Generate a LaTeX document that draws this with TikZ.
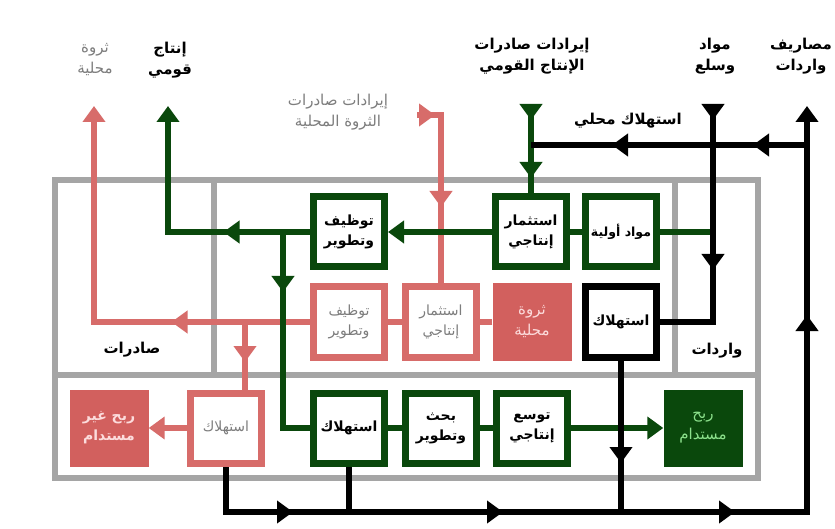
\documentclass[tikz,border=0pt]{standalone}
\usepackage{fontspec}
\newfontfamily\arfont[Script=Arabic]{DejaVu Sans}
\TeXXeTstate=1
\usetikzlibrary{arrows.meta,decorations.markings}
\newcommand{\AR}[1]{{\arfont\beginR #1\endR}}
\definecolor{framegray}{RGB}{165,165,165}
\definecolor{dg}{RGB}{10,72,12}
\definecolor{rdl}{RGB}{215,108,106}
\definecolor{rdfill}{RGB}{210,96,94}
\definecolor{txtgray}{RGB}{125,125,125}
\definecolor{pinktxt}{RGB}{252,220,220}
\definecolor{ltgreen}{RGB}{140,225,140}
\pgfdeclarelayer{frameLayer}
\pgfdeclarelayer{lineLayer}
\pgfsetlayers{frameLayer,lineLayer,main}
\tikzset{
  Tri/.tip={Triangle[width=22pt,length=16pt]},
  mk/.style={postaction={decorate,decoration={markings,mark=at position #1 with {\arrow{Tri}}}}},
  gline/.style={draw=dg,line width=6pt},
  rline/.style={draw=rdl,line width=6pt},
  kline/.style={draw=black,line width=6pt},
  box/.style={line width=7pt,minimum width=71pt,minimum height=70pt,fill=white,inner sep=0pt,align=center},
  gbox/.style={box,draw=dg,font=\fontsize{14}{20}\selectfont\bfseries},
  kbox/.style={box,draw=black,font=\fontsize{14}{20}\selectfont\bfseries},
  rbox/.style={box,draw=rdl,text=txtgray,font=\fontsize{14}{20}\selectfont},
  fbox/.style={minimum width=79pt,minimum height=77pt,inner sep=0pt,align=center},
  lbl/.style={align=center,inner sep=0pt,font=\fontsize{15}{21}\selectfont},
  blbl/.style={lbl,font=\fontsize{15}{21}\selectfont\bfseries},
}
\begin{document}
\begin{tikzpicture}[x=1pt,y=-1pt]
\useasboundingbox (0,0) rectangle (835,529);
\begin{pgfonlayer}{frameLayer}
\fill[white] (0,0) rectangle (835,529);
\draw[framegray,line width=6pt] (55,180) rectangle (758,478);
\draw[framegray,line width=6pt] (55,375) -- (758,375);
\draw[framegray,line width=6pt] (214,180) -- (214,375);
\draw[framegray,line width=6pt] (675,180) -- (675,375);
\end{pgfonlayer}

% boxes
\node[gbox] (td1) at (349,232) {\AR{توظيف}\\\AR{وتطوير}};
\node[gbox] (pi1) at (531,232) {\AR{استثمار}\\\AR{إنتاجي}};
\node[gbox,font=\fontsize{12.5}{20}\selectfont\bfseries] (mo) at (621,232) {\AR{مواد أولية}};
\node[rbox] (rd1) at (349,322) {\AR{توظيف}\\\AR{وتطوير}};
\node[rbox] (rp) at (441,322) {\AR{استثمار}\\\AR{إنتاجي}};
\node[fbox,fill=rdfill,text=pinktxt,font=\fontsize{15}{21}\selectfont] (tw) at (532,322) {\AR{ثروة}\\\AR{محلية}};
\node[kbox] (kc) at (621,322) {\AR{استهلاك}};
\node[rbox] (rc) at (226,428) {\AR{استهلاك}};
\node[fbox,fill=rdfill,text=pinktxt,font=\fontsize{14}{20}\selectfont\bfseries] (rg) at (109,428) {\AR{ربح غير}\\\AR{مستدام}};
\node[gbox] (gc) at (349,428) {\AR{استهلاك}};
\node[gbox] (bd) at (441,428) {\AR{بحث}\\\AR{وتطوير}};
\node[gbox] (ts) at (532,428) {\AR{توسع}\\\AR{إنتاجي}};
\node[fbox,fill=dg,text=ltgreen,font=\fontsize{15}{21}\selectfont] (rm) at (703,428) {\AR{ربح}\\\AR{مستدام}};

% labels
\node[lbl,text=txtgray] (l1) at (95,60) {\AR{ثروة}\\\AR{محلية}};
\node[blbl] (l2) at (170,60) {\AR{إنتاج}\\\AR{قومي}};
\node[lbl,text=txtgray] (l3) at (338,112) {\AR{إيرادات صادرات}\\\AR{الثروة المحلية}};
\node[blbl] (l4) at (532,56) {\AR{إيرادات صادرات}\\\AR{الإنتاج القومي}};
\node[blbl] (l5) at (715,56) {\AR{مواد}\\\AR{وسلع}};
\node[blbl] (l6) at (801,56) {\AR{مصاريف}\\\AR{واردات}};
\node[blbl] (l7) at (628,121) {\AR{استهلاك محلي}};
\node[blbl] (l8) at (132,350) {\AR{صادرات}};
\node[blbl] (l9) at (717,351) {\AR{واردات}};

% coordinates
\coordinate (gtop) at (531,106);
\coordinate (gj) at (531,145);
\coordinate (kr) at (807,145);
\coordinate (ktop) at (713,106);
\coordinate (gnat) at (168,106);
\coordinate (gsplit) at (283,232);
\coordinate (rtop) at (417,115);
\coordinate (rnat) at (94,106);
\coordinate (rsplit) at (245,322);
\coordinate (kbl) at (226,512);
\coordinate (kbr) at (807,512);
\coordinate (kout) at (807,106);

\begin{pgfonlayer}{lineLayer}
% red
\draw[rline,mk=18pt,mk=116pt] (rtop) -- (rp.north |- rtop) -- (rp.north);
\draw[rline] (tw.west) -- (rp.east);
\draw[rline] (rp.west) -- (rd1.east);
\draw[rline,mk=138.5pt,-{Tri}] (rd1.west) -- (rnat |- rd1.west) -- (rnat);
\draw[rline,mk=40pt] (rsplit) -- (rsplit |- rc.north);
\draw[rline,-{Tri}] (rc.west) -- (rg.east);
% green
\draw[gline,mk=14pt,mk=72pt] (gtop) -- (pi1.north);
\draw[gline,-{Tri}] (pi1.west) -- (td1.east);
\draw[gline,mk=86.5pt,-{Tri}] (td1.west) -- (gnat |- td1.west) -- (gnat);
\draw[gline,mk=60pt] (gsplit) -- (gsplit |- gc.west) -- (gc.west);
\draw[gline] (pi1.east) -- (mo.west);
\draw[gline] (mo.east) -- (ktop |- mo.east);
\draw[gline] (gc.east) -- (bd.west);
\draw[gline] (bd.east) -- (ts.west);
\draw[gline,-{Tri}] (ts.east) -- (rm.west);
% black
\draw[kline,mk=54pt,mk=195pt] (kr) -- (gj);
\draw[kline,mk=14pt,mk=164pt] (ktop) -- (ktop |- kc.east) -- (kc.east);
\draw[kline] (gc.south) -- (gc.south |- kbl);
\draw[kline,mk=102.5pt] (kc.south) -- (kc.south |- kbl);
\draw[kline,mk=112.5pt,mk=322.5pt,mk=554.5pt,mk=823.5pt,-{Tri}] (rc.south) -- (kbl) -- (kbr) -- (kout);
\end{pgfonlayer}
\end{tikzpicture}
\end{document}
